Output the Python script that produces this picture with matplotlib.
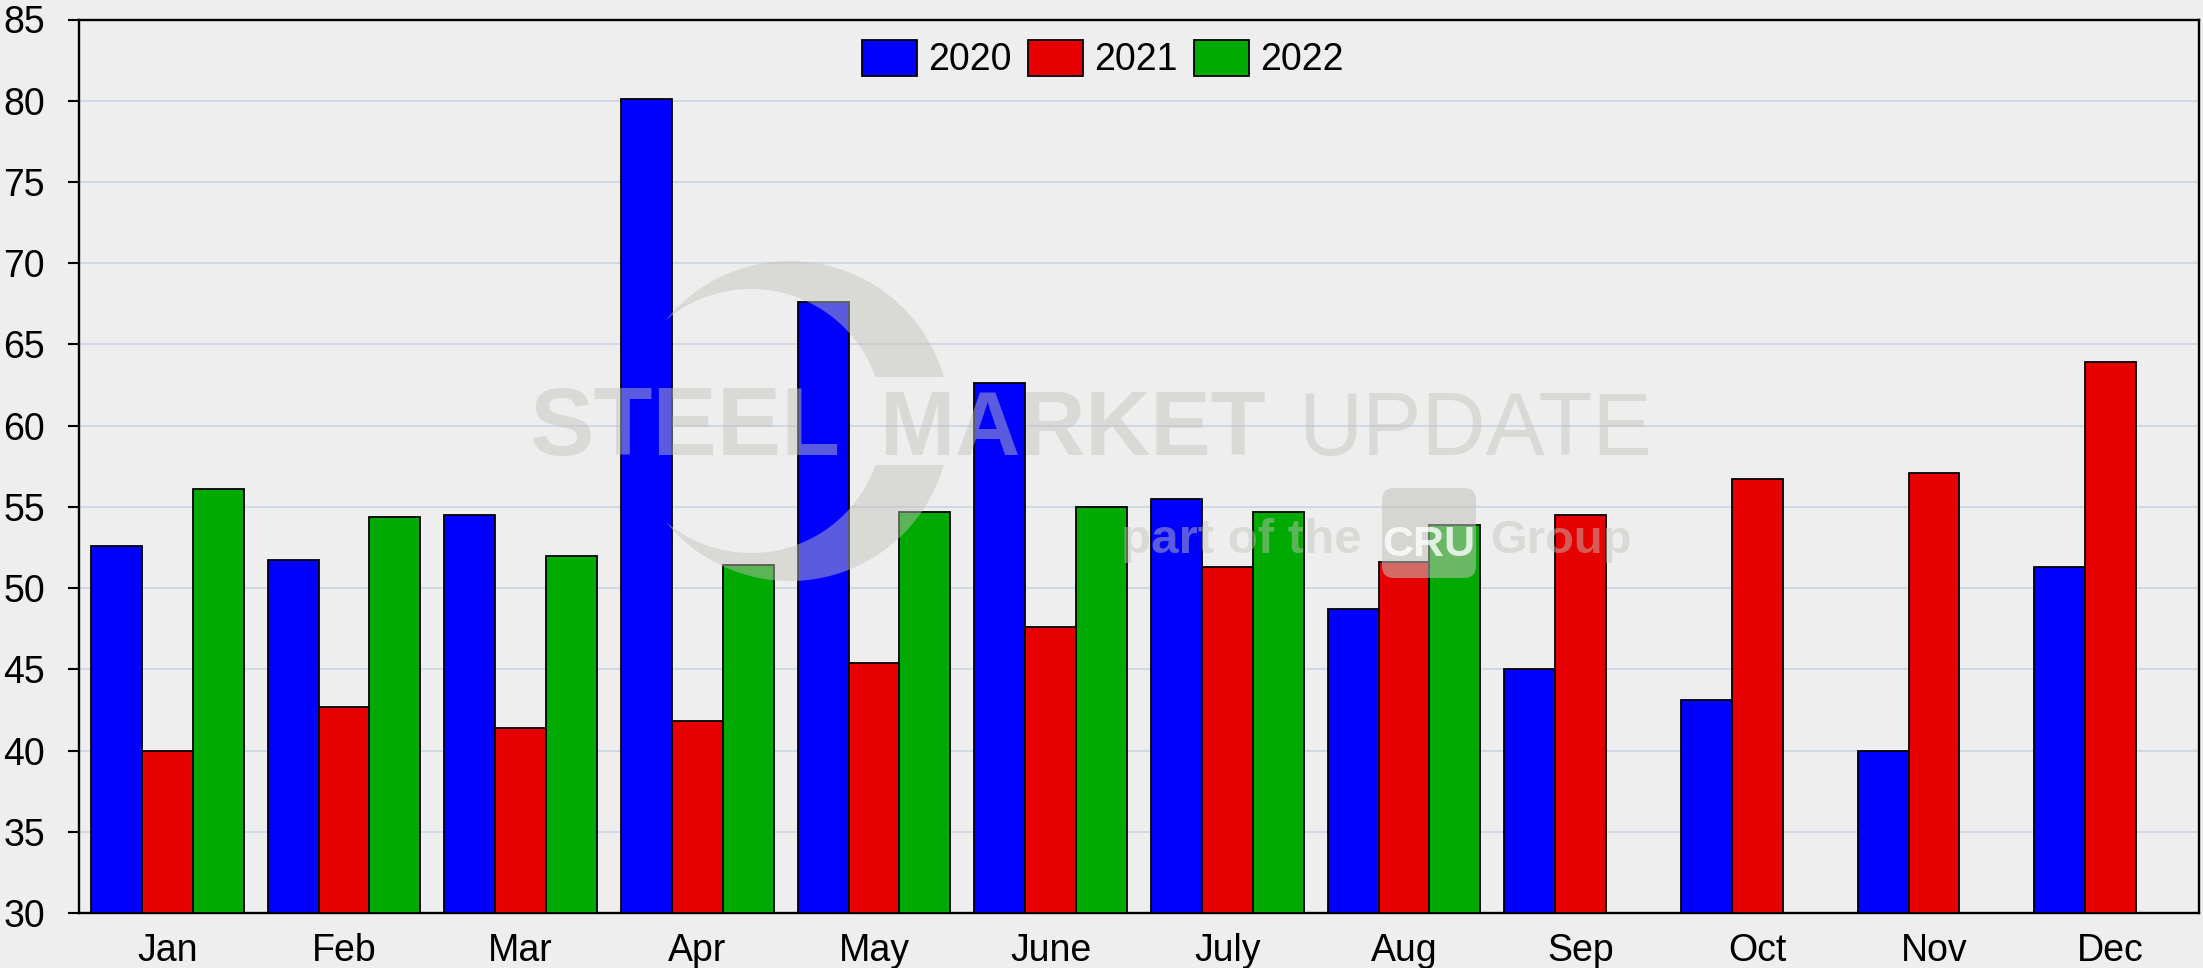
import numpy as np
import matplotlib
matplotlib.use("Agg")
import matplotlib.pyplot as plt
from matplotlib.patches import Patch, Polygon, FancyBboxPatch

plt.rcParams['font.family'] = ['Liberation Sans', 'DejaVu Sans']

months = ['Jan', 'Feb', 'Mar', 'Apr', 'May', 'June', 'July', 'Aug', 'Sep', 'Oct', 'Nov', 'Dec']
years = ['2020', '2021', '2022']
v2020 = [52.6, 51.7, 54.5, 80.1, 67.6, 62.6, 55.5, 48.7, 45.0, 43.1, 40.0, 51.3]
v2021 = [40.0, 42.7, 41.4, 41.8, 45.4, 47.6, 51.3, 51.6, 54.5, 56.7, 57.1, 63.9]
v2022 = [56.1, 54.4, 52.0, 51.4, 54.7, 55.0, 54.7, 53.9, np.nan, np.nan, np.nan, np.nan]
colors = ['#0000ff', '#e60000', '#00aa00']
yticks = [30, 35, 40, 45, 50, 55, 60, 65, 70, 75, 80, 85]

W, H = 2203, 968
bg = '#eeeeee'
fig = plt.figure(figsize=(W / 100, H / 100), dpi=100, facecolor=bg)
ax = fig.add_axes([79 / W, 1 - 913 / H, (2199 - 79) / W, (913 - 19.5) / H])
ax.set_facecolor(bg)

x = np.arange(len(months))
w = 0.2885
for i, (vals, c) in enumerate(zip([v2020, v2021, v2022], colors)):
    vals = np.array(vals)
    ax.bar(x + (i - 1) * w, vals - 30, bottom=30, width=w, color=c,
           edgecolor='black', linewidth=1.3, zorder=3)

ax.set_xlim(-0.5, len(months) - 0.5)
ax.set_ylim(30, 85)
ax.set_yticks(yticks)
ax.set_xticks(x)
ax.set_xticklabels(months)
ax.tick_params(axis='y', labelsize=27, length=8, width=1.5, pad=16.5, direction='out')
ax.tick_params(axis='x', labelsize=27, length=0, pad=14.5)
for s in ax.spines.values():
    s.set_linewidth(1.7)
    s.set_color('black')
ax.yaxis.grid(True, color='#c8d2e4', linewidth=1.1, zorder=0)
ax.set_axisbelow(True)

handles = [Patch(facecolor=c, edgecolor='black', linewidth=1.3) for c in colors]
fig.legend(handles, years, loc='center', bbox_to_anchor=(1103 / W, 1 - 59 / H), ncol=3,
           frameon=False, fontsize=27, handlelength=1.45, handleheight=1.1,
           handletextpad=0.3, columnspacing=0.45, borderaxespad=0)

# watermark overlay in pixel coordinates
ov = fig.add_axes([0, 0, 1, 1], facecolor='none')
ov.set_xlim(0, W)
ov.set_ylim(H, 0)
ov.axis('off')
ov.set_zorder(5)
wm = (194 / 255, 194 / 255, 188 / 255)
wa = 0.47

# crescent logo
cxo, cyo, ro = 790, 421, 160
cxi, ri = 751, 132
tip_x = (cxo**2 - cxi**2 - (ro**2 - ri**2)) / (2 * (cxo - cxi))
tip_dy = np.sqrt(ro**2 - (tip_x - cxo)**2)
a_out = np.arctan2(tip_dy, tip_x - cxo)
a_in = np.arctan2(tip_dy, tip_x - cxi)
gap = 44  # half height of the horizontal cut

def ring_piece(sign):
    # outer arc from tip to cut, inner arc back
    yo = np.arcsin(gap / ro)
    yi = np.arcsin(gap / ri)
    t1 = np.linspace(a_out, yo, 120)
    t2 = np.linspace(yi, a_in, 120)
    px = np.concatenate([cxo + ro * np.cos(t1), cxi + ri * np.cos(t2)])
    py = np.concatenate([cyo - sign * ro * np.sin(t1), cyo - sign * ri * np.sin(t2)])
    return np.column_stack([px, py])

for sgn in (1, -1):
    ov.add_patch(Polygon(ring_piece(sgn), closed=True, facecolor=wm, edgecolor='none', alpha=wa))

ov.text(529, 455, 'STEEL', fontsize=69.5, fontweight='bold', color=wm, alpha=wa, va='baseline', ha='left')
ov.text(880, 455, 'MARKET', fontsize=65, fontweight='bold', color=wm, alpha=wa, va='baseline', ha='left')
ov.text(1298, 455, 'UPDATE', fontsize=64, color=wm, alpha=wa, va='baseline', ha='left')
ov.text(1121, 553, 'part of the', fontsize=35.5, fontweight='bold', color=wm, alpha=wa, va='baseline', ha='left')
ov.add_patch(FancyBboxPatch((1382, 488), 94, 90, boxstyle='round,pad=0,rounding_size=12',
                            facecolor=wm, edgecolor='none', alpha=0.55))
ov.text(1429, 556, 'CRU', fontsize=31, fontweight='bold', color='white', alpha=0.8,
        va='baseline', ha='center')
ov.text(1490, 553, 'Group', fontsize=34, fontweight='bold', color=wm, alpha=wa, va='baseline', ha='left')

fig.savefig('out.png', dpi=100, facecolor=bg)
